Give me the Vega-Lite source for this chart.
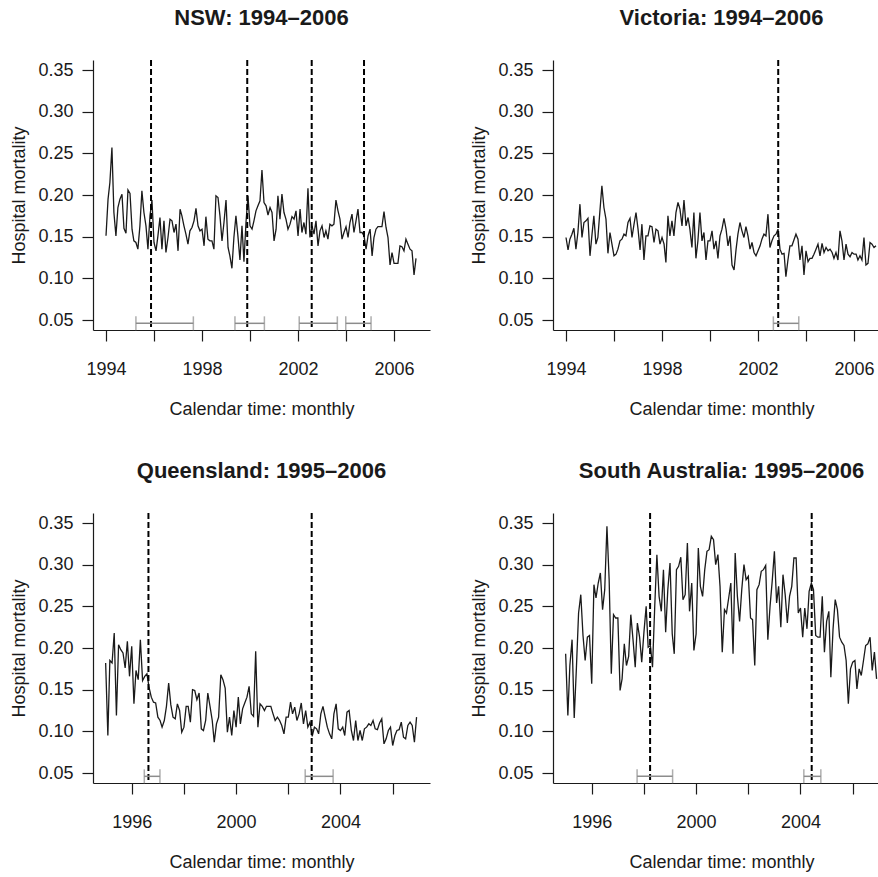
{
  "$schema": "https://vega.github.io/schema/vega-lite/v6.json",
  "autosize": {"type": "none"},
  "padding": {"left": 93, "top": 60, "right": 785, "bottom": 817},
  "background": "white",
  "columns": 2,
  "bounds": "flush",
  "spacing": {"row": 183, "column": 123},
  "datasets": {
    "nsw": [
      {"d":"1994-01","v":0.151},{"d":"1994-02","v":0.195},{"d":"1994-03","v":0.215},{"d":"1994-04","v":0.257},{"d":"1994-05","v":0.179},{"d":"1994-06","v":0.151},{"d":"1994-07","v":0.185},{"d":"1994-08","v":0.195},{"d":"1994-09","v":0.201},{"d":"1994-10","v":0.160},{"d":"1994-11","v":0.154},{"d":"1994-12","v":0.206},
      {"d":"1995-01","v":0.202},{"d":"1995-02","v":0.159},{"d":"1995-03","v":0.145},{"d":"1995-04","v":0.143},{"d":"1995-05","v":0.135},{"d":"1995-06","v":0.163},{"d":"1995-07","v":0.205},{"d":"1995-08","v":0.179},{"d":"1995-09","v":0.163},{"d":"1995-10","v":0.135},{"d":"1995-11","v":0.175},{"d":"1995-12","v":0.194},
      {"d":"1996-01","v":0.143},{"d":"1996-02","v":0.133},{"d":"1996-03","v":0.151},{"d":"1996-04","v":0.173},{"d":"1996-05","v":0.135},{"d":"1996-06","v":0.169},{"d":"1996-07","v":0.131},{"d":"1996-08","v":0.149},{"d":"1996-09","v":0.171},{"d":"1996-10","v":0.169},{"d":"1996-11","v":0.155},{"d":"1996-12","v":0.165},
      {"d":"1997-01","v":0.133},{"d":"1997-02","v":0.183},{"d":"1997-03","v":0.175},{"d":"1997-04","v":0.163},{"d":"1997-05","v":0.153},{"d":"1997-06","v":0.141},{"d":"1997-07","v":0.157},{"d":"1997-08","v":0.161},{"d":"1997-09","v":0.169},{"d":"1997-10","v":0.184},{"d":"1997-11","v":0.163},{"d":"1997-12","v":0.157},
      {"d":"1998-01","v":0.159},{"d":"1998-02","v":0.139},{"d":"1998-03","v":0.174},{"d":"1998-04","v":0.147},{"d":"1998-05","v":0.145},{"d":"1998-06","v":0.145},{"d":"1998-07","v":0.135},{"d":"1998-08","v":0.199},{"d":"1998-09","v":0.197},{"d":"1998-10","v":0.175},{"d":"1998-11","v":0.145},{"d":"1998-12","v":0.167},
      {"d":"1999-01","v":0.194},{"d":"1999-02","v":0.137},{"d":"1999-03","v":0.127},{"d":"1999-04","v":0.112},{"d":"1999-05","v":0.149},{"d":"1999-06","v":0.175},{"d":"1999-07","v":0.151},{"d":"1999-08","v":0.122},{"d":"1999-09","v":0.163},{"d":"1999-10","v":0.120},{"d":"1999-11","v":0.167},{"d":"1999-12","v":0.199},
      {"d":"2000-01","v":0.163},{"d":"2000-02","v":0.159},{"d":"2000-03","v":0.169},{"d":"2000-04","v":0.181},{"d":"2000-05","v":0.187},{"d":"2000-06","v":0.193},{"d":"2000-07","v":0.230},{"d":"2000-08","v":0.191},{"d":"2000-09","v":0.187},{"d":"2000-10","v":0.176},{"d":"2000-11","v":0.185},{"d":"2000-12","v":0.179},
      {"d":"2001-01","v":0.145},{"d":"2001-02","v":0.159},{"d":"2001-03","v":0.199},{"d":"2001-04","v":0.171},{"d":"2001-05","v":0.201},{"d":"2001-06","v":0.179},{"d":"2001-07","v":0.171},{"d":"2001-08","v":0.159},{"d":"2001-09","v":0.165},{"d":"2001-10","v":0.174},{"d":"2001-11","v":0.171},{"d":"2001-12","v":0.181},
      {"d":"2002-01","v":0.151},{"d":"2002-02","v":0.183},{"d":"2002-03","v":0.155},{"d":"2002-04","v":0.167},{"d":"2002-05","v":0.153},{"d":"2002-06","v":0.208},{"d":"2002-07","v":0.149},{"d":"2002-08","v":0.163},{"d":"2002-09","v":0.153},{"d":"2002-10","v":0.169},{"d":"2002-11","v":0.139},{"d":"2002-12","v":0.157},
      {"d":"2003-01","v":0.163},{"d":"2003-02","v":0.149},{"d":"2003-03","v":0.157},{"d":"2003-04","v":0.147},{"d":"2003-05","v":0.165},{"d":"2003-06","v":0.163},{"d":"2003-07","v":0.165},{"d":"2003-08","v":0.194},{"d":"2003-09","v":0.181},{"d":"2003-10","v":0.171},{"d":"2003-11","v":0.147},{"d":"2003-12","v":0.155},
      {"d":"2004-01","v":0.162},{"d":"2004-02","v":0.149},{"d":"2004-03","v":0.167},{"d":"2004-04","v":0.177},{"d":"2004-05","v":0.155},{"d":"2004-06","v":0.169},{"d":"2004-07","v":0.183},{"d":"2004-08","v":0.155},{"d":"2004-09","v":0.155},{"d":"2004-10","v":0.151},{"d":"2004-11","v":0.135},{"d":"2004-12","v":0.151},
      {"d":"2005-01","v":0.159},{"d":"2005-02","v":0.127},{"d":"2005-03","v":0.149},{"d":"2005-04","v":0.159},{"d":"2005-05","v":0.162},{"d":"2005-06","v":0.162},{"d":"2005-07","v":0.162},{"d":"2005-08","v":0.180},{"d":"2005-09","v":0.161},{"d":"2005-10","v":0.149},{"d":"2005-11","v":0.116},{"d":"2005-12","v":0.131},
      {"d":"2006-01","v":0.118},{"d":"2006-02","v":0.118},{"d":"2006-03","v":0.118},{"d":"2006-04","v":0.139},{"d":"2006-05","v":0.138},{"d":"2006-06","v":0.133},{"d":"2006-07","v":0.147},{"d":"2006-08","v":0.141},{"d":"2006-09","v":0.135},{"d":"2006-10","v":0.133},{"d":"2006-11","v":0.104},{"d":"2006-12","v":0.124}
    ],
    "vic": [
      {"d":"1994-01","v":0.149},{"d":"1994-02","v":0.134},{"d":"1994-03","v":0.147},{"d":"1994-04","v":0.153},{"d":"1994-05","v":0.160},{"d":"1994-06","v":0.135},{"d":"1994-07","v":0.155},{"d":"1994-08","v":0.189},{"d":"1994-09","v":0.149},{"d":"1994-10","v":0.167},{"d":"1994-11","v":0.169},{"d":"1994-12","v":0.172},
      {"d":"1995-01","v":0.127},{"d":"1995-02","v":0.153},{"d":"1995-03","v":0.175},{"d":"1995-04","v":0.141},{"d":"1995-05","v":0.149},{"d":"1995-06","v":0.181},{"d":"1995-07","v":0.211},{"d":"1995-08","v":0.185},{"d":"1995-09","v":0.171},{"d":"1995-10","v":0.130},{"d":"1995-11","v":0.155},{"d":"1995-12","v":0.141},
      {"d":"1996-01","v":0.127},{"d":"1996-02","v":0.129},{"d":"1996-03","v":0.135},{"d":"1996-04","v":0.145},{"d":"1996-05","v":0.147},{"d":"1996-06","v":0.153},{"d":"1996-07","v":0.151},{"d":"1996-08","v":0.167},{"d":"1996-09","v":0.172},{"d":"1996-10","v":0.149},{"d":"1996-11","v":0.165},{"d":"1996-12","v":0.179},
      {"d":"1997-01","v":0.159},{"d":"1997-02","v":0.134},{"d":"1997-03","v":0.165},{"d":"1997-04","v":0.122},{"d":"1997-05","v":0.151},{"d":"1997-06","v":0.151},{"d":"1997-07","v":0.163},{"d":"1997-08","v":0.162},{"d":"1997-09","v":0.143},{"d":"1997-10","v":0.159},{"d":"1997-11","v":0.157},{"d":"1997-12","v":0.141},
      {"d":"1998-01","v":0.149},{"d":"1998-02","v":0.141},{"d":"1998-03","v":0.119},{"d":"1998-04","v":0.175},{"d":"1998-05","v":0.151},{"d":"1998-06","v":0.169},{"d":"1998-07","v":0.151},{"d":"1998-08","v":0.179},{"d":"1998-09","v":0.191},{"d":"1998-10","v":0.183},{"d":"1998-11","v":0.163},{"d":"1998-12","v":0.194},
      {"d":"1999-01","v":0.163},{"d":"1999-02","v":0.173},{"d":"1999-03","v":0.159},{"d":"1999-04","v":0.137},{"d":"1999-05","v":0.179},{"d":"1999-06","v":0.124},{"d":"1999-07","v":0.145},{"d":"1999-08","v":0.179},{"d":"1999-09","v":0.145},{"d":"1999-10","v":0.155},{"d":"1999-11","v":0.122},{"d":"1999-12","v":0.145},
      {"d":"2000-01","v":0.145},{"d":"2000-02","v":0.157},{"d":"2000-03","v":0.135},{"d":"2000-04","v":0.145},{"d":"2000-05","v":0.124},{"d":"2000-06","v":0.151},{"d":"2000-07","v":0.159},{"d":"2000-08","v":0.172},{"d":"2000-09","v":0.159},{"d":"2000-10","v":0.139},{"d":"2000-11","v":0.151},{"d":"2000-12","v":0.116},
      {"d":"2001-01","v":0.110},{"d":"2001-02","v":0.135},{"d":"2001-03","v":0.153},{"d":"2001-04","v":0.167},{"d":"2001-05","v":0.157},{"d":"2001-06","v":0.149},{"d":"2001-07","v":0.162},{"d":"2001-08","v":0.151},{"d":"2001-09","v":0.135},{"d":"2001-10","v":0.143},{"d":"2001-11","v":0.131},{"d":"2001-12","v":0.127},
      {"d":"2002-01","v":0.133},{"d":"2002-02","v":0.139},{"d":"2002-03","v":0.147},{"d":"2002-04","v":0.153},{"d":"2002-05","v":0.151},{"d":"2002-06","v":0.177},{"d":"2002-07","v":0.137},{"d":"2002-08","v":0.145},{"d":"2002-09","v":0.151},{"d":"2002-10","v":0.153},{"d":"2002-11","v":0.159},{"d":"2002-12","v":0.135},
      {"d":"2003-01","v":0.129},{"d":"2003-02","v":0.130},{"d":"2003-03","v":0.102},{"d":"2003-04","v":0.122},{"d":"2003-05","v":0.139},{"d":"2003-06","v":0.139},{"d":"2003-07","v":0.146},{"d":"2003-08","v":0.153},{"d":"2003-09","v":0.147},{"d":"2003-10","v":0.122},{"d":"2003-11","v":0.139},{"d":"2003-12","v":0.104},
      {"d":"2004-01","v":0.133},{"d":"2004-02","v":0.120},{"d":"2004-03","v":0.124},{"d":"2004-04","v":0.124},{"d":"2004-05","v":0.129},{"d":"2004-06","v":0.135},{"d":"2004-07","v":0.141},{"d":"2004-08","v":0.127},{"d":"2004-09","v":0.142},{"d":"2004-10","v":0.131},{"d":"2004-11","v":0.137},{"d":"2004-12","v":0.133},
      {"d":"2005-01","v":0.135},{"d":"2005-02","v":0.131},{"d":"2005-03","v":0.124},{"d":"2005-04","v":0.131},{"d":"2005-05","v":0.122},{"d":"2005-06","v":0.157},{"d":"2005-07","v":0.145},{"d":"2005-08","v":0.122},{"d":"2005-09","v":0.141},{"d":"2005-10","v":0.129},{"d":"2005-11","v":0.126},{"d":"2005-12","v":0.131},
      {"d":"2006-01","v":0.129},{"d":"2006-02","v":0.129},{"d":"2006-03","v":0.122},{"d":"2006-04","v":0.127},{"d":"2006-05","v":0.122},{"d":"2006-06","v":0.149},{"d":"2006-07","v":0.116},{"d":"2006-08","v":0.118},{"d":"2006-09","v":0.143},{"d":"2006-10","v":0.141},{"d":"2006-11","v":0.137},{"d":"2006-12","v":0.139}
    ],
    "qld": [
      {"d":"1995-01","v":0.182},{"d":"1995-02","v":0.095},{"d":"1995-03","v":0.185},{"d":"1995-04","v":0.182},{"d":"1995-05","v":0.218},{"d":"1995-06","v":0.119},{"d":"1995-07","v":0.204},{"d":"1995-08","v":0.198},{"d":"1995-09","v":0.194},{"d":"1995-10","v":0.176},{"d":"1995-11","v":0.208},{"d":"1995-12","v":0.166},
      {"d":"1996-01","v":0.202},{"d":"1996-02","v":0.133},{"d":"1996-03","v":0.173},{"d":"1996-04","v":0.162},{"d":"1996-05","v":0.210},{"d":"1996-06","v":0.161},{"d":"1996-07","v":0.166},{"d":"1996-08","v":0.169},{"d":"1996-09","v":0.152},{"d":"1996-10","v":0.141},{"d":"1996-11","v":0.135},{"d":"1996-12","v":0.134},
      {"d":"1997-01","v":0.117},{"d":"1997-02","v":0.113},{"d":"1997-03","v":0.105},{"d":"1997-04","v":0.113},{"d":"1997-05","v":0.130},{"d":"1997-06","v":0.158},{"d":"1997-07","v":0.132},{"d":"1997-08","v":0.117},{"d":"1997-09","v":0.115},{"d":"1997-10","v":0.133},{"d":"1997-11","v":0.125},{"d":"1997-12","v":0.099},
      {"d":"1998-01","v":0.105},{"d":"1998-02","v":0.130},{"d":"1998-03","v":0.130},{"d":"1998-04","v":0.111},{"d":"1998-05","v":0.150},{"d":"1998-06","v":0.149},{"d":"1998-07","v":0.138},{"d":"1998-08","v":0.146},{"d":"1998-09","v":0.103},{"d":"1998-10","v":0.101},{"d":"1998-11","v":0.113},{"d":"1998-12","v":0.146},
      {"d":"1999-01","v":0.130},{"d":"1999-02","v":0.113},{"d":"1999-03","v":0.087},{"d":"1999-04","v":0.109},{"d":"1999-05","v":0.117},{"d":"1999-06","v":0.168},{"d":"1999-07","v":0.162},{"d":"1999-08","v":0.152},{"d":"1999-09","v":0.099},{"d":"1999-10","v":0.117},{"d":"1999-11","v":0.095},{"d":"1999-12","v":0.125},
      {"d":"2000-01","v":0.105},{"d":"2000-02","v":0.141},{"d":"2000-03","v":0.109},{"d":"2000-04","v":0.127},{"d":"2000-05","v":0.134},{"d":"2000-06","v":0.141},{"d":"2000-07","v":0.154},{"d":"2000-08","v":0.121},{"d":"2000-09","v":0.118},{"d":"2000-10","v":0.196},{"d":"2000-11","v":0.105},{"d":"2000-12","v":0.133},
      {"d":"2001-01","v":0.130},{"d":"2001-02","v":0.125},{"d":"2001-03","v":0.130},{"d":"2001-04","v":0.130},{"d":"2001-05","v":0.130},{"d":"2001-06","v":0.121},{"d":"2001-07","v":0.113},{"d":"2001-08","v":0.117},{"d":"2001-09","v":0.113},{"d":"2001-10","v":0.107},{"d":"2001-11","v":0.097},{"d":"2001-12","v":0.117},
      {"d":"2002-01","v":0.117},{"d":"2002-02","v":0.135},{"d":"2002-03","v":0.121},{"d":"2002-04","v":0.129},{"d":"2002-05","v":0.113},{"d":"2002-06","v":0.121},{"d":"2002-07","v":0.134},{"d":"2002-08","v":0.109},{"d":"2002-09","v":0.125},{"d":"2002-10","v":0.105},{"d":"2002-11","v":0.111},{"d":"2002-12","v":0.094},
      {"d":"2003-01","v":0.105},{"d":"2003-02","v":0.103},{"d":"2003-03","v":0.097},{"d":"2003-04","v":0.121},{"d":"2003-05","v":0.130},{"d":"2003-06","v":0.117},{"d":"2003-07","v":0.105},{"d":"2003-08","v":0.097},{"d":"2003-09","v":0.091},{"d":"2003-10","v":0.121},{"d":"2003-11","v":0.133},{"d":"2003-12","v":0.103},
      {"d":"2004-01","v":0.101},{"d":"2004-02","v":0.105},{"d":"2004-03","v":0.095},{"d":"2004-04","v":0.123},{"d":"2004-05","v":0.125},{"d":"2004-06","v":0.101},{"d":"2004-07","v":0.089},{"d":"2004-08","v":0.113},{"d":"2004-09","v":0.089},{"d":"2004-10","v":0.101},{"d":"2004-11","v":0.089},{"d":"2004-12","v":0.103},
      {"d":"2005-01","v":0.105},{"d":"2005-02","v":0.109},{"d":"2005-03","v":0.107},{"d":"2005-04","v":0.113},{"d":"2005-05","v":0.103},{"d":"2005-06","v":0.102},{"d":"2005-07","v":0.110},{"d":"2005-08","v":0.115},{"d":"2005-09","v":0.085},{"d":"2005-10","v":0.091},{"d":"2005-11","v":0.101},{"d":"2005-12","v":0.105},
      {"d":"2006-01","v":0.083},{"d":"2006-02","v":0.095},{"d":"2006-03","v":0.101},{"d":"2006-04","v":0.102},{"d":"2006-05","v":0.111},{"d":"2006-06","v":0.093},{"d":"2006-07","v":0.091},{"d":"2006-08","v":0.107},{"d":"2006-09","v":0.111},{"d":"2006-10","v":0.107},{"d":"2006-11","v":0.087},{"d":"2006-12","v":0.117}
    ],
    "sa": [
      {"d":"1995-01","v":0.193},{"d":"1995-02","v":0.119},{"d":"1995-03","v":0.179},{"d":"1995-04","v":0.210},{"d":"1995-05","v":0.116},{"d":"1995-06","v":0.177},{"d":"1995-07","v":0.242},{"d":"1995-08","v":0.264},{"d":"1995-09","v":0.215},{"d":"1995-10","v":0.185},{"d":"1995-11","v":0.213},{"d":"1995-12","v":0.215},
      {"d":"1996-01","v":0.157},{"d":"1996-02","v":0.276},{"d":"1996-03","v":0.260},{"d":"1996-04","v":0.278},{"d":"1996-05","v":0.290},{"d":"1996-06","v":0.246},{"d":"1996-07","v":0.270},{"d":"1996-08","v":0.346},{"d":"1996-09","v":0.282},{"d":"1996-10","v":0.169},{"d":"1996-11","v":0.240},{"d":"1996-12","v":0.236},
      {"d":"1997-01","v":0.236},{"d":"1997-02","v":0.149},{"d":"1997-03","v":0.163},{"d":"1997-04","v":0.205},{"d":"1997-05","v":0.179},{"d":"1997-06","v":0.190},{"d":"1997-07","v":0.240},{"d":"1997-08","v":0.210},{"d":"1997-09","v":0.177},{"d":"1997-10","v":0.230},{"d":"1997-11","v":0.213},{"d":"1997-12","v":0.183},
      {"d":"1998-01","v":0.219},{"d":"1998-02","v":0.250},{"d":"1998-03","v":0.201},{"d":"1998-04","v":0.203},{"d":"1998-05","v":0.177},{"d":"1998-06","v":0.250},{"d":"1998-07","v":0.312},{"d":"1998-08","v":0.262},{"d":"1998-09","v":0.244},{"d":"1998-10","v":0.294},{"d":"1998-11","v":0.219},{"d":"1998-12","v":0.270},
      {"d":"1999-01","v":0.302},{"d":"1999-02","v":0.217},{"d":"1999-03","v":0.193},{"d":"1999-04","v":0.294},{"d":"1999-05","v":0.298},{"d":"1999-06","v":0.309},{"d":"1999-07","v":0.258},{"d":"1999-08","v":0.264},{"d":"1999-09","v":0.326},{"d":"1999-10","v":0.244},{"d":"1999-11","v":0.278},{"d":"1999-12","v":0.197},
      {"d":"2000-01","v":0.217},{"d":"2000-02","v":0.320},{"d":"2000-03","v":0.274},{"d":"2000-04","v":0.262},{"d":"2000-05","v":0.294},{"d":"2000-06","v":0.316},{"d":"2000-07","v":0.318},{"d":"2000-08","v":0.334},{"d":"2000-09","v":0.330},{"d":"2000-10","v":0.300},{"d":"2000-11","v":0.312},{"d":"2000-12","v":0.274},
      {"d":"2001-01","v":0.195},{"d":"2001-02","v":0.246},{"d":"2001-03","v":0.242},{"d":"2001-04","v":0.260},{"d":"2001-05","v":0.278},{"d":"2001-06","v":0.193},{"d":"2001-07","v":0.314},{"d":"2001-08","v":0.262},{"d":"2001-09","v":0.232},{"d":"2001-10","v":0.270},{"d":"2001-11","v":0.300},{"d":"2001-12","v":0.282},
      {"d":"2002-01","v":0.286},{"d":"2002-02","v":0.236},{"d":"2002-03","v":0.234},{"d":"2002-04","v":0.179},{"d":"2002-05","v":0.270},{"d":"2002-06","v":0.276},{"d":"2002-07","v":0.292},{"d":"2002-08","v":0.294},{"d":"2002-09","v":0.299},{"d":"2002-10","v":0.210},{"d":"2002-11","v":0.250},{"d":"2002-12","v":0.280},
      {"d":"2003-01","v":0.316},{"d":"2003-02","v":0.254},{"d":"2003-03","v":0.274},{"d":"2003-04","v":0.225},{"d":"2003-05","v":0.288},{"d":"2003-06","v":0.264},{"d":"2003-07","v":0.230},{"d":"2003-08","v":0.262},{"d":"2003-09","v":0.274},{"d":"2003-10","v":0.308},{"d":"2003-11","v":0.308},{"d":"2003-12","v":0.242},
      {"d":"2004-01","v":0.248},{"d":"2004-02","v":0.213},{"d":"2004-03","v":0.248},{"d":"2004-04","v":0.223},{"d":"2004-05","v":0.268},{"d":"2004-06","v":0.278},{"d":"2004-07","v":0.270},{"d":"2004-08","v":0.215},{"d":"2004-09","v":0.213},{"d":"2004-10","v":0.213},{"d":"2004-11","v":0.262},{"d":"2004-12","v":0.195},
      {"d":"2005-01","v":0.232},{"d":"2005-02","v":0.244},{"d":"2005-03","v":0.165},{"d":"2005-04","v":0.223},{"d":"2005-05","v":0.258},{"d":"2005-06","v":0.246},{"d":"2005-07","v":0.213},{"d":"2005-08","v":0.207},{"d":"2005-09","v":0.203},{"d":"2005-10","v":0.185},{"d":"2005-11","v":0.133},{"d":"2005-12","v":0.175},
      {"d":"2006-01","v":0.183},{"d":"2006-02","v":0.185},{"d":"2006-03","v":0.151},{"d":"2006-04","v":0.175},{"d":"2006-05","v":0.167},{"d":"2006-06","v":0.185},{"d":"2006-07","v":0.203},{"d":"2006-08","v":0.205},{"d":"2006-09","v":0.213},{"d":"2006-10","v":0.173},{"d":"2006-11","v":0.195},{"d":"2006-12","v":0.163}
    ],
    "cp": [
      {"r":"NSW","d":"1995-11-17"},{"r":"NSW","d":"1999-11-20"},{"r":"NSW","d":"2002-07-28"},{"r":"NSW","d":"2004-10-01"},
      {"r":"VIC","d":"2002-11-04"},
      {"r":"QLD","d":"1996-08-22"},{"r":"QLD","d":"2002-11-24"},
      {"r":"SA","d":"1998-03-28"},{"r":"SA","d":"2004-06-06"}
    ],
    "ci": [
      {"r":"NSW","lo":"1995-04-01","hi":"1997-08-22"},{"r":"NSW","lo":"1999-05-17","hi":"2000-08-07"},{"r":"NSW","lo":"2002-01-19","hi":"2003-08-22"},{"r":"NSW","lo":"2003-12-28","hi":"2005-01-16"},
      {"r":"VIC","lo":"2002-08-22","hi":"2003-09-13"},
      {"r":"QLD","lo":"1996-06-25","hi":"1997-01-30"},{"r":"QLD","lo":"2002-08-25","hi":"2003-09-20"},
      {"r":"SA","lo":"1997-09-27","hi":"1999-02-06"},{"r":"SA","lo":"2004-02-17","hi":"2004-10-12"}
    ]
  },
  "concat": [
    {
      "title": {"text": "NSW: 1994–2006"},
      "width": 337, "height": 270,
      "layer": [
        {"data": {"name": "nsw"},
         "mark": {"type": "line", "color": "#1a1a1a", "strokeWidth": 1.3},
         "encoding": {
           "x": {"field": "d", "type": "temporal", "title": "Calendar time: monthly",
                 "scale": {"type": "utc", "domain": [{"year": 1993, "month": "jun", "date": 17, "utc": true}, {"year": 2007, "month": "jul", "date": 2, "utc": true}]},
                 "axis": {"values": [{"year":1994,"utc":true},{"year":1996,"utc":true},{"year":1998,"utc":true},{"year":2000,"utc":true},{"year":2002,"utc":true},{"year":2004,"utc":true},{"year":2006,"utc":true}],
                          "labelExpr": "(utcyear(datum.value) - 1994) % 4 == 0 ? utcFormat(datum.value, '%Y') : ''"}},
           "y": {"field": "v", "type": "quantitative", "title": "Hospital mortality",
                 "scale": {"domain": [0.038, 0.362], "nice": false, "zero": false},
                 "axis": {"values": [0.05, 0.1, 0.15, 0.2, 0.25, 0.3, 0.35], "format": ".2f"}}
         }},
        {"data": {"name": "cp"}, "transform": [{"filter": "datum.r == 'NSW'"}],
         "mark": {"type": "rule", "color": "#000000", "strokeWidth": 2, "strokeDash": [6, 3]},
         "encoding": {"x": {"field": "d", "type": "temporal", "title": "Calendar time: monthly"}}},
        {"data": {"name": "ci"}, "transform": [{"filter": "datum.r == 'NSW'"}],
         "mark": {"type": "rule", "color": "#8c8c8c", "strokeWidth": 1.5},
         "encoding": {"x": {"field": "lo", "type": "temporal", "title": "Calendar time: monthly"}, "x2": {"field": "hi"}, "y": {"datum": 0.046}}},
        {"data": {"name": "ci"}, "transform": [{"filter": "datum.r == 'NSW'"}],
         "mark": {"type": "tick", "color": "#8c8c8c", "thickness": 1.5, "size": 14, "orient": "vertical"},
         "encoding": {"x": {"field": "lo", "type": "temporal", "title": "Calendar time: monthly"}, "y": {"datum": 0.046}}},
        {"data": {"name": "ci"}, "transform": [{"filter": "datum.r == 'NSW'"}],
         "mark": {"type": "tick", "color": "#8c8c8c", "thickness": 1.5, "size": 14, "orient": "vertical"},
         "encoding": {"x": {"field": "hi", "type": "temporal", "title": "Calendar time: monthly"}, "y": {"datum": 0.046}}}
      ]
    },
    {
      "title": {"text": "Victoria: 1994–2006"},
      "width": 337, "height": 270,
      "layer": [
        {"data": {"name": "vic"},
         "mark": {"type": "line", "color": "#1a1a1a", "strokeWidth": 1.3},
         "encoding": {
           "x": {"field": "d", "type": "temporal", "title": "Calendar time: monthly",
                 "scale": {"type": "utc", "domain": [{"year": 1993, "month": "jun", "date": 17, "utc": true}, {"year": 2007, "month": "jul", "date": 2, "utc": true}]},
                 "axis": {"values": [{"year":1994,"utc":true},{"year":1996,"utc":true},{"year":1998,"utc":true},{"year":2000,"utc":true},{"year":2002,"utc":true},{"year":2004,"utc":true},{"year":2006,"utc":true}],
                          "labelExpr": "(utcyear(datum.value) - 1994) % 4 == 0 ? utcFormat(datum.value, '%Y') : ''"}},
           "y": {"field": "v", "type": "quantitative", "title": "Hospital mortality",
                 "scale": {"domain": [0.038, 0.362], "nice": false, "zero": false},
                 "axis": {"values": [0.05, 0.1, 0.15, 0.2, 0.25, 0.3, 0.35], "format": ".2f"}}
         }},
        {"data": {"name": "cp"}, "transform": [{"filter": "datum.r == 'VIC'"}],
         "mark": {"type": "rule", "color": "#000000", "strokeWidth": 2, "strokeDash": [6, 3]},
         "encoding": {"x": {"field": "d", "type": "temporal", "title": "Calendar time: monthly"}}},
        {"data": {"name": "ci"}, "transform": [{"filter": "datum.r == 'VIC'"}],
         "mark": {"type": "rule", "color": "#8c8c8c", "strokeWidth": 1.5},
         "encoding": {"x": {"field": "lo", "type": "temporal", "title": "Calendar time: monthly"}, "x2": {"field": "hi"}, "y": {"datum": 0.046}}},
        {"data": {"name": "ci"}, "transform": [{"filter": "datum.r == 'VIC'"}],
         "mark": {"type": "tick", "color": "#8c8c8c", "thickness": 1.5, "size": 14, "orient": "vertical"},
         "encoding": {"x": {"field": "lo", "type": "temporal", "title": "Calendar time: monthly"}, "y": {"datum": 0.046}}},
        {"data": {"name": "ci"}, "transform": [{"filter": "datum.r == 'VIC'"}],
         "mark": {"type": "tick", "color": "#8c8c8c", "thickness": 1.5, "size": 14, "orient": "vertical"},
         "encoding": {"x": {"field": "hi", "type": "temporal", "title": "Calendar time: monthly"}, "y": {"datum": 0.046}}}
      ]
    },
    {
      "title": {"text": "Queensland: 1995–2006"},
      "width": 337, "height": 270,
      "layer": [
        {"data": {"name": "qld"},
         "mark": {"type": "line", "color": "#1a1a1a", "strokeWidth": 1.3},
         "encoding": {
           "x": {"field": "d", "type": "temporal", "title": "Calendar time: monthly",
                 "scale": {"type": "utc", "domain": [{"year": 1994, "month": "jul", "date": 8, "utc": true}, {"year": 2007, "month": "jun", "date": 7, "utc": true}]},
                 "axis": {"values": [{"year":1996,"utc":true},{"year":1998,"utc":true},{"year":2000,"utc":true},{"year":2002,"utc":true},{"year":2004,"utc":true},{"year":2006,"utc":true}],
                          "labelExpr": "utcyear(datum.value) % 4 == 0 ? utcFormat(datum.value, '%Y') : ''"}},
           "y": {"field": "v", "type": "quantitative", "title": "Hospital mortality",
                 "scale": {"domain": [0.038, 0.362], "nice": false, "zero": false},
                 "axis": {"values": [0.05, 0.1, 0.15, 0.2, 0.25, 0.3, 0.35], "format": ".2f"}}
         }},
        {"data": {"name": "cp"}, "transform": [{"filter": "datum.r == 'QLD'"}],
         "mark": {"type": "rule", "color": "#000000", "strokeWidth": 2, "strokeDash": [6, 3]},
         "encoding": {"x": {"field": "d", "type": "temporal", "title": "Calendar time: monthly"}}},
        {"data": {"name": "ci"}, "transform": [{"filter": "datum.r == 'QLD'"}],
         "mark": {"type": "rule", "color": "#8c8c8c", "strokeWidth": 1.5},
         "encoding": {"x": {"field": "lo", "type": "temporal", "title": "Calendar time: monthly"}, "x2": {"field": "hi"}, "y": {"datum": 0.046}}},
        {"data": {"name": "ci"}, "transform": [{"filter": "datum.r == 'QLD'"}],
         "mark": {"type": "tick", "color": "#8c8c8c", "thickness": 1.5, "size": 14, "orient": "vertical"},
         "encoding": {"x": {"field": "lo", "type": "temporal", "title": "Calendar time: monthly"}, "y": {"datum": 0.046}}},
        {"data": {"name": "ci"}, "transform": [{"filter": "datum.r == 'QLD'"}],
         "mark": {"type": "tick", "color": "#8c8c8c", "thickness": 1.5, "size": 14, "orient": "vertical"},
         "encoding": {"x": {"field": "hi", "type": "temporal", "title": "Calendar time: monthly"}, "y": {"datum": 0.046}}}
      ]
    },
    {
      "title": {"text": "South Australia: 1995–2006"},
      "width": 337, "height": 270,
      "layer": [
        {"data": {"name": "sa"},
         "mark": {"type": "line", "color": "#1a1a1a", "strokeWidth": 1.3},
         "encoding": {
           "x": {"field": "d", "type": "temporal", "title": "Calendar time: monthly",
                 "scale": {"type": "utc", "domain": [{"year": 1994, "month": "jul", "date": 8, "utc": true}, {"year": 2007, "month": "jun", "date": 7, "utc": true}]},
                 "axis": {"values": [{"year":1996,"utc":true},{"year":1998,"utc":true},{"year":2000,"utc":true},{"year":2002,"utc":true},{"year":2004,"utc":true},{"year":2006,"utc":true}],
                          "labelExpr": "utcyear(datum.value) % 4 == 0 ? utcFormat(datum.value, '%Y') : ''"}},
           "y": {"field": "v", "type": "quantitative", "title": "Hospital mortality",
                 "scale": {"domain": [0.038, 0.362], "nice": false, "zero": false},
                 "axis": {"values": [0.05, 0.1, 0.15, 0.2, 0.25, 0.3, 0.35], "format": ".2f"}}
         }},
        {"data": {"name": "cp"}, "transform": [{"filter": "datum.r == 'SA'"}],
         "mark": {"type": "rule", "color": "#000000", "strokeWidth": 2, "strokeDash": [6, 3]},
         "encoding": {"x": {"field": "d", "type": "temporal", "title": "Calendar time: monthly"}}},
        {"data": {"name": "ci"}, "transform": [{"filter": "datum.r == 'SA'"}],
         "mark": {"type": "rule", "color": "#8c8c8c", "strokeWidth": 1.5},
         "encoding": {"x": {"field": "lo", "type": "temporal", "title": "Calendar time: monthly"}, "x2": {"field": "hi"}, "y": {"datum": 0.046}}},
        {"data": {"name": "ci"}, "transform": [{"filter": "datum.r == 'SA'"}],
         "mark": {"type": "tick", "color": "#8c8c8c", "thickness": 1.5, "size": 14, "orient": "vertical"},
         "encoding": {"x": {"field": "lo", "type": "temporal", "title": "Calendar time: monthly"}, "y": {"datum": 0.046}}},
        {"data": {"name": "ci"}, "transform": [{"filter": "datum.r == 'SA'"}],
         "mark": {"type": "tick", "color": "#8c8c8c", "thickness": 1.5, "size": 14, "orient": "vertical"},
         "encoding": {"x": {"field": "hi", "type": "temporal", "title": "Calendar time: monthly"}, "y": {"datum": 0.046}}}
      ]
    }
  ],
  "config": {
    "view": {"stroke": null},
    "font": "Liberation Sans",
    "title": {"font": "Liberation Sans", "fontSize": 22, "fontWeight": "bold", "color": "#1a1a1a", "anchor": "middle", "frame": "group", "baseline": "alphabetic", "offset": 29},
    "axis": {"grid": false, "domainColor": "#1a1a1a", "domainWidth": 1.2, "tickColor": "#1a1a1a", "tickWidth": 1.2, "tickSize": 11,
             "labelFont": "Liberation Sans", "labelFontSize": 18, "labelColor": "#1a1a1a",
             "titleFont": "Liberation Sans", "titleFontSize": 18, "titleFontWeight": "normal", "titleColor": "#1a1a1a",
             "labelFlush": false, "labelOverlap": false, "labelBound": false},
    "axisX": {"labelPadding": 33, "labelBaseline": "alphabetic", "titleBaseline": "alphabetic", "titleX": 168.5, "titleY": 84},
    "axisY": {"labelPadding": 9, "labelBaseline": "middle", "titleBaseline": "alphabetic", "titleAngle": 270, "titleX": -69, "titleY": 135}
  }
}
